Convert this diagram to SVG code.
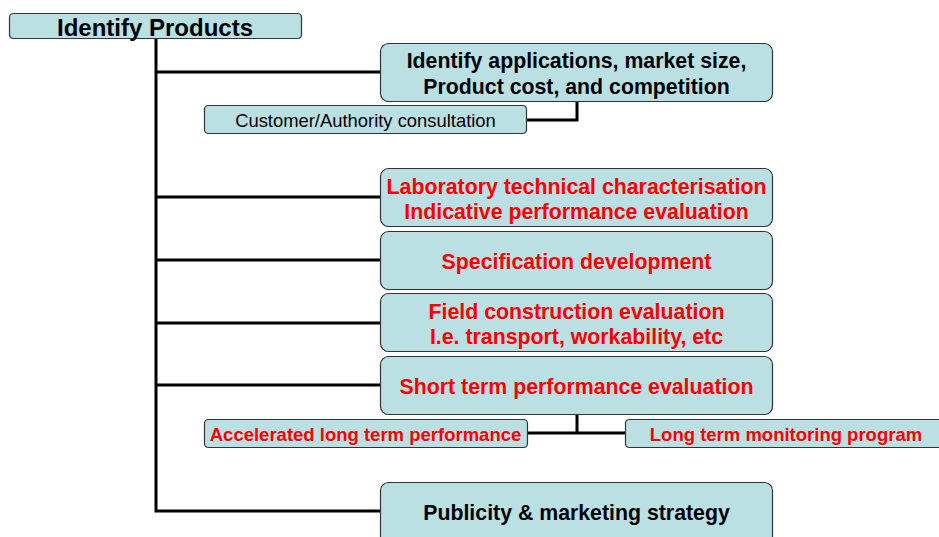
<svg xmlns="http://www.w3.org/2000/svg" width="939" height="537" viewBox="0 0 939 537">
  <style>
    .box { fill: #bbe0e3; stroke: #333333; stroke-width: 1.2; }
    .wire { fill: none; stroke: #000000; stroke-width: 3; stroke-linecap: butt; stroke-linejoin: miter; }
    text { font-family: "Liberation Sans", Arial, sans-serif; text-anchor: middle; dominant-baseline: central; }
    .big { font-size: 21.3px; font-weight: bold; }
    .small { font-size: 18.4px; }
    .smallb { font-size: 18.5px; font-weight: bold; }
    .blk { fill: #000000; }
    .red { fill: #ff0000; }
  </style>

  <!-- connectors -->
  <g id="connectors">
    <path class="wire" d="M156 38 V511 H381"/>
    <path class="wire" d="M156 72 H381"/>
    <path class="wire" d="M156 197 H381"/>
    <path class="wire" d="M156 260 H381"/>
    <path class="wire" d="M156 323 H381"/>
    <path class="wire" d="M156 385 H381"/>
    <path class="wire" d="M577 101 V120 H527"/>
    <path class="wire" d="M577 414 V433"/>
    <path class="wire" d="M528 433 H625"/>
  </g>

  <g id="identify-products">
    <rect class="box" x="9.5" y="13.5" width="292" height="25" rx="4"/>
    <text class="blk" x="155" y="27" style="font-size:24px;font-weight:bold">Identify Products</text>
  </g>

  <g id="applications">
    <rect class="box" x="380.5" y="43.5" width="392" height="58" rx="8"/>
    <text class="big blk" x="576.5" y="61">Identify applications, market size,</text>
    <text class="big blk" x="576.5" y="86.5">Product cost, and competition</text>
  </g>

  <g id="consultation">
    <rect class="box" x="204.5" y="105.5" width="322" height="28" rx="4"/>
    <text class="small blk" x="365.5" y="120.5">Customer/Authority consultation</text>
  </g>

  <g id="laboratory">
    <rect class="box" x="380.5" y="168.5" width="392" height="58" rx="8"/>
    <text class="big red" x="576.5" y="186.5">Laboratory technical characterisation</text>
    <text class="big red" x="576.5" y="211.5">Indicative performance evaluation</text>
  </g>

  <g id="specification">
    <rect class="box" x="380.5" y="231.5" width="392" height="58" rx="8"/>
    <text class="big red" x="576.5" y="261.5">Specification development</text>
  </g>

  <g id="field-construction">
    <rect class="box" x="380.5" y="293.5" width="392" height="58" rx="8"/>
    <text class="big red" x="576.5" y="311.5">Field construction evaluation</text>
    <text class="big red" x="576.5" y="336.5">I.e. transport, workability, etc</text>
  </g>

  <g id="short-term">
    <rect class="box" x="380.5" y="356.5" width="392" height="58" rx="8"/>
    <text class="big red" x="576.5" y="386.5">Short term performance evaluation</text>
  </g>

  <g id="accelerated">
    <rect class="box" x="204.5" y="419.5" width="323" height="28" rx="4"/>
    <text class="smallb red" x="365.5" y="434">Accelerated long term performance</text>
  </g>

  <g id="long-term">
    <rect class="box" x="625.5" y="419.5" width="330" height="28" rx="4"/>
    <text class="smallb red" x="786" y="434">Long term monitoring program</text>
  </g>

  <g id="publicity">
    <rect class="box" x="380.5" y="482.5" width="392" height="70" rx="8"/>
    <text class="big blk" x="576.5" y="512.5">Publicity &amp; marketing strategy</text>
  </g>
</svg>
